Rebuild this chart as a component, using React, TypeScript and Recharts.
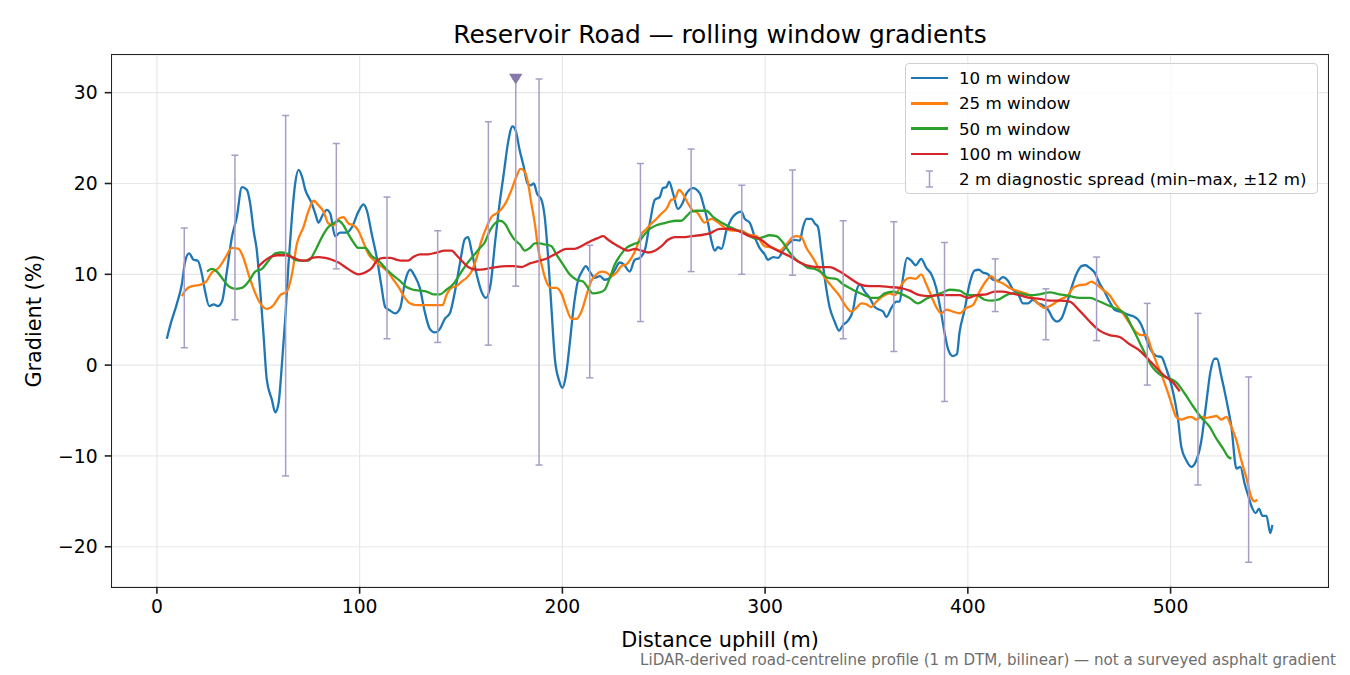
import React from "react"
import { ComposedChart, Line, Scatter, XAxis, YAxis, CartesianGrid } from "recharts"

// 10 m window
const dist10 = [
  4.9, 6.6, 9.9, 12.3, 14.0, 15.9, 18.1, 20.2, 22.2, 23.8, 25.8, 28.0, 30.1, 32.1, 34.5, 37.0, 39.4, 41.9, 44.4, 46.0,
  47.7, 49.3, 51.0, 52.6, 54.2, 56.7, 58.4, 60.0, 61.6, 63.3, 64.9, 66.6, 68.2, 69.9, 71.5, 73.2, 76.4, 78.1, 79.7, 81.7,
  83.8, 85.5, 87.9, 90.4, 93.7, 96.2, 99.4, 101.9, 103.6, 106.0, 108.5, 110.6, 112.6, 115.1, 117.5, 120.0, 122.4, 124.9,
  127.2, 129.7, 132.1, 134.6, 137.1, 139.6, 142.0, 144.5, 147.0, 149.4, 151.9, 153.5, 155.2, 157.7, 160.1, 162.3, 164.6,
  166.7, 168.8, 171.1, 173.2, 175.4, 177.0, 178.9, 180.9, 182.8, 184.3, 185.9, 187.5, 189.7, 191.3, 193.0, 194.6, 196.3,
  198.4, 200.0, 201.7, 203.7, 205.3, 207.8, 209.4, 211.6, 213.5, 216.0, 218.5, 220.9, 223.4, 225.9, 228.3, 230.3, 233.2,
  235.7, 238.1, 240.6, 243.1, 245.6, 248.0, 249.6, 251.3, 252.6, 254.6, 257.0, 259.2, 261.2, 264.4, 267.8, 269.4, 271.9,
  273.5, 275.2, 276.8, 278.5, 280.9, 283.4, 285.8, 288.3, 290.0, 292.4, 294.9, 297.3, 299.8, 301.4, 304.0, 306.4, 308.8,
  312.1, 314.6, 317.1, 318.7, 320.4, 322.8, 324.5, 326.1, 327.7, 329.4, 331.8, 334.3, 336.5, 338.4, 340.9, 343.4, 345.0,
  346.7, 349.1, 351.6, 354.1, 356.5, 358.2, 359.8, 362.3, 364.7, 366.4, 368.0, 370.0, 372.1, 374.3, 377.0, 379.5, 382.0,
  384.4, 386.4, 388.5, 390.2, 392.6, 394.6, 395.9, 398.4, 400.8, 403.3, 405.5, 407.4, 409.9, 412.4, 414.9, 417.3, 419.8,
  422.3, 424.7, 427.2, 429.7, 432.1, 434.6, 437.1, 439.6, 442.0, 444.0, 446.1, 448.6, 451.1, 453.5, 456.0, 458.1, 460.1,
  462.5, 465.0, 467.4, 469.9, 472.4, 474.8, 477.3, 479.8, 482.3, 484.7, 486.4, 488.0, 490.5, 493.0, 495.4, 497.9, 500.4,
  502.0, 503.7, 505.3, 507.8, 510.2, 512.7, 515.2, 517.6, 519.6, 521.7, 522.9, 525.0, 527.5, 530.0, 532.5, 534.4, 536.6,
  538.2, 540.4, 542.0, 543.6, 545.3, 547.3, 549.2, 550.2,
]
const grad10 = [
  2.9, 4.4, 6.8, 8.9, 11.5, 12.3, 11.6, 11.5, 10.0, 8.1, 6.5, 6.7, 6.5, 7.0, 10.3, 14.1, 16.3, 19.6, 19.3, 17.8,
  14.8, 12.6, 8.1, 3.3, -1.6, -3.8, -5.2, -4.2, -0.1, 5.1, 11.1, 16.3, 20.0, 21.5, 20.8, 19.3, 17.8, 16.7, 15.7, 16.5,
  17.1, 16.7, 14.2, 14.6, 14.6, 15.2, 16.9, 17.7, 17.0, 14.4, 11.8, 8.9, 6.4, 6.0, 5.7, 6.3, 9.2, 10.5,
  9.8, 8.5, 5.9, 4.0, 3.6, 4.0, 5.1, 5.7, 8.1, 11.1, 13.9, 14.1, 12.6, 10.0, 8.1, 7.4, 8.9,
  13.3, 17.4, 21.1, 24.5, 26.3, 25.8, 23.7, 21.9, 20.0, 19.8, 20.0, 18.9, 18.2, 16.3, 11.8, 6.3, 0.7,
  -1.7, -2.5, -1.2, 2.5, 5.9, 9.4, 10.2, 10.9, 10.3, 9.6, 9.8, 9.4, 9.6, 10.5, 11.3, 11.1, 10.3,
  11.6, 11.8, 12.6, 15.6, 18.2, 18.5, 19.5, 19.6, 20.2, 18.9, 17.2, 17.8, 18.9, 19.5, 18.9, 17.8, 15.6,
  13.7, 12.6, 13.0, 12.8, 14.8, 16.1, 16.7, 16.9, 16.1, 15.7, 14.1, 12.9, 12.2, 11.6, 11.9, 11.8, 12.6,
  13.5, 13.8, 13.7, 15.2, 16.1, 16.1, 15.6, 15.2, 12.6, 9.6, 6.4, 4.8, 3.8, 4.4, 4.9, 6.1, 8.1,
  8.9, 8.1, 7.4, 6.4, 6.1, 5.9, 5.3, 6.3, 7.0, 7.0, 9.6, 11.8, 11.5, 11.0, 11.7, 10.7, 10.0,
  8.5, 6.3, 3.6, 1.8, 1.0, 1.2, 3.6, 6.1, 8.9, 10.4, 10.5, 10.2, 10.0, 9.4, 9.3, 9.7, 9.3,
  8.3, 7.9, 6.8, 6.8, 7.2, 6.8, 6.6, 6.1, 5.1, 4.8, 5.1, 6.6, 8.5, 10.0, 10.9, 11.0, 10.7,
  10.2, 9.0, 8.1, 7.0, 6.1, 5.9, 5.7, 5.5, 5.3, 4.8, 4.0, 2.9, 1.6, 1.0, 0.9, -0.4, -2.2,
  -3.8, -6.0, -9.0, -10.5, -11.2, -10.5, -8.3, -4.2, -0.8, 0.7, 0.7, -1.2, -3.8, -6.8, -11.4, -11.2, -13.1,
  -14.3, -15.8, -16.3, -15.8, -16.6, -16.6, -18.5, -17.6,
]

// 25 m window
const dist25 = [
  12.3, 14.3, 17.3, 20.5, 24.3, 27.1, 30.4, 33.7, 37.0, 40.3, 42.7, 45.2, 48.2, 51.0, 54.2, 57.5, 60.8, 64.1, 66.6, 69.0,
  72.3, 74.8, 77.3, 79.7, 82.2, 84.6, 87.1, 89.6, 92.0, 94.5, 97.0, 99.4, 101.9, 104.4, 106.8, 109.3, 111.8, 114.2, 116.7,
  119.5, 122.3, 124.8, 128.0, 131.3, 134.6, 137.9, 140.9, 142.8, 145.3, 147.8, 150.3, 152.7, 155.2, 157.7, 160.1, 162.6,
  165.0, 167.5, 170.0, 172.4, 174.9, 177.4, 179.3, 181.5, 183.1, 184.7, 186.4, 188.0, 189.7, 192.1, 194.6, 197.0, 199.5,
  202.0, 204.5, 207.0, 209.4, 211.9, 214.3, 216.8, 219.3, 221.7, 224.2, 226.7, 229.1, 231.6, 234.1, 236.5, 239.0, 241.5,
  243.9, 246.4, 248.9, 251.3, 253.8, 255.4, 257.6, 259.6, 262.0, 264.4, 266.5, 270.2, 273.5, 276.8, 280.9, 284.2, 288.3,
  291.6, 295.7, 299.8, 304.0, 307.2, 310.5, 313.8, 315.4, 317.9, 320.4, 323.6, 326.9, 330.2, 333.5, 336.8, 340.1, 342.5,
  345.0, 347.5, 349.9, 352.4, 354.9, 358.2, 361.4, 363.9, 366.4, 368.8, 371.3, 374.3, 377.0, 379.5, 382.0, 384.4, 386.9,
  389.4, 392.6, 395.9, 399.2, 402.5, 405.8, 408.8, 411.5, 414.0, 417.3, 420.6, 425.5, 430.5, 434.6, 438.0, 441.2, 445.3,
  449.4, 451.9, 455.1, 458.4, 460.9, 463.4, 466.6, 469.9, 473.2, 476.5, 479.8, 483.1, 485.5, 488.0, 490.5, 493.0, 495.4,
  497.9, 500.4, 502.8, 505.3, 507.8, 510.2, 512.7, 515.2, 517.6, 520.1, 522.6, 525.0, 527.5, 530.0, 532.5, 534.9, 537.4,
  539.9, 541.5, 542.7,
]
const grad25 = [
  7.6, 8.3, 8.7, 8.8, 9.2, 10.2, 10.7, 11.8, 12.9, 12.8, 11.8, 10.0, 8.1, 6.8, 6.2, 6.6, 7.7, 8.1, 10.0, 13.3,
  15.2, 17.0, 18.1, 17.6, 16.9, 15.6, 15.4, 16.1, 16.3, 15.6, 15.4, 14.8, 13.5, 12.2, 11.6, 11.1, 10.7, 10.2, 9.4,
  8.5, 7.4, 6.8, 6.6, 6.6, 6.6, 6.6, 6.6, 7.7, 8.5, 8.7, 9.2, 9.6, 10.3, 11.8, 13.7, 15.2,
  16.3, 16.7, 17.2, 18.0, 19.3, 20.8, 21.6, 21.3, 20.0, 17.8, 15.6, 12.9, 11.1, 9.2, 8.5, 8.5, 7.9,
  6.3, 5.1, 5.1, 5.9, 7.7, 9.3, 10.0, 10.3, 10.2, 9.8, 10.2, 10.9, 11.1, 11.8, 12.9, 14.4, 15.0,
  15.6, 16.1, 16.7, 17.2, 18.2, 18.3, 19.3, 18.8, 17.8, 17.0, 16.8, 15.7, 16.1, 15.7, 15.0, 14.8, 14.8,
  14.4, 14.2, 13.1, 12.9, 12.6, 13.3, 14.1, 14.2, 14.1, 12.9, 11.8, 10.5, 9.4, 8.5, 7.6, 6.4, 5.9,
  6.3, 6.8, 6.7, 6.4, 7.0, 7.6, 7.9, 7.7, 8.5, 9.3, 9.6, 9.5, 10.0, 8.9, 7.6, 6.4, 5.7,
  6.1, 5.9, 5.7, 6.3, 6.6, 8.1, 9.2, 9.8, 9.3, 9.0, 8.5, 8.1, 7.7, 6.8, 6.3, 6.6, 7.2,
  7.7, 8.5, 8.8, 8.9, 9.2, 8.9, 8.3, 7.7, 6.6, 5.7, 4.6, 3.6, 3.3, 3.3, 1.8, 0.3, -1.0,
  -2.5, -4.2, -5.7, -6.0, -5.8, -5.7, -6.0, -5.7, -5.8, -5.7, -5.6, -6.0, -5.7, -6.8, -8.3, -10.5, -12.4,
  -14.6, -15.0, -14.8,
]

// 50 m window
const dist50 = [
  24.7, 27.1, 29.6, 32.1, 35.3, 38.6, 41.9, 45.2, 48.5, 51.8, 55.1, 58.4, 61.6, 64.9, 68.2, 71.5, 74.8, 78.1, 81.4, 84.6,
  87.1, 89.6, 92.0, 94.5, 97.0, 99.4, 102.7, 106.0, 109.3, 112.6, 115.9, 119.5, 123.1, 126.4, 129.7, 133.0, 136.3, 139.6,
  142.8, 146.1, 149.4, 152.7, 156.0, 159.3, 161.7, 164.2, 166.7, 169.1, 171.6, 174.1, 176.5, 179.0, 181.5, 183.9, 186.4,
  188.8, 191.3, 194.6, 197.0, 200.3, 203.6, 206.9, 210.2, 212.7, 215.1, 218.4, 220.9, 223.4, 225.9, 228.3, 231.6, 234.9,
  237.4, 239.8, 243.1, 246.4, 249.7, 253.0, 256.2, 258.7, 261.2, 263.6, 266.1, 271.0, 274.4, 278.5, 282.6, 285.8, 289.1,
  292.4, 295.7, 299.0, 302.2, 305.5, 308.8, 312.1, 315.4, 318.7, 321.2, 324.5, 327.7, 331.0, 335.1, 338.4, 341.7, 345.0,
  349.1, 352.4, 355.7, 359.0, 363.1, 366.4, 371.3, 375.4, 379.5, 383.6, 387.7, 391.0, 395.9, 400.0, 404.2, 408.3, 411.5,
  414.9, 418.1, 421.4, 425.5, 430.5, 435.4, 440.4, 445.3, 450.2, 455.1, 460.1, 465.0, 469.1, 473.2, 477.3, 481.4, 484.7,
  488.0, 491.3, 494.6, 498.7, 502.8, 506.9, 511.0, 515.2, 519.3, 522.6, 525.9, 528.4, 530.0,
]
const grad50 = [
  10.3, 10.6, 10.3, 9.6, 8.7, 8.4, 8.5, 9.2, 10.3, 10.6, 11.5, 12.3, 12.4, 12.2, 11.6, 11.5, 11.5, 12.6, 14.1, 15.2,
  15.6, 15.9, 15.4, 14.4, 13.5, 12.9, 12.9, 12.0, 11.5, 10.7, 10.0, 9.35, 8.6, 8.3, 8.2, 8.1, 7.8, 7.8,
  8.3, 8.9, 10.0, 11.1, 12.0, 12.9, 13.5, 14.8, 15.6, 15.9, 15.6, 14.6, 13.8, 13.3, 12.6, 12.9, 13.4,
  13.4, 13.3, 13.1, 12.2, 11.1, 10.0, 9.4, 9.2, 8.5, 7.9, 8.0, 8.3, 9.6, 11.1, 12.0, 12.9, 13.3,
  13.5, 14.2, 15.0, 15.4, 15.6, 15.8, 15.9, 15.9, 16.4, 16.9, 17.0, 17.0, 16.3, 15.7, 15.2, 14.9, 14.6,
  14.2, 13.9, 14.1, 14.3, 14.2, 13.5, 12.4, 11.6, 11.1, 10.7, 10.6, 10.2, 9.6, 9.5, 8.9, 8.5, 8.1,
  7.7, 7.4, 7.4, 7.9, 8.1, 7.9, 7.4, 6.8, 7.3, 7.7, 8.0, 8.3, 8.2, 7.7, 7.7, 7.2, 7.1,
  7.2, 7.6, 7.9, 7.9, 7.7, 7.8, 8.0, 7.8, 7.6, 7.4, 7.4, 7.0, 6.6, 6.2, 5.7, 4.0, 2.5,
  1.0, -0.3, -1.0, -1.4, -1.9, -3.1, -4.5, -5.8, -6.8, -8.1, -9.2, -10.1, -10.3,
]

// 100 m window
const dist100 = [
  49.8, 52.6, 55.9, 59.2, 63.3, 66.6, 69.9, 73.1, 76.4, 79.7, 83.0, 86.3, 89.6, 92.9, 96.2, 99.4, 102.7, 106.0, 108.5,
  111.8, 115.1, 118.3, 121.6, 123.9, 126.4, 129.7, 133.8, 137.9, 142.0, 145.3, 147.8, 150.3, 153.5, 157.7, 162.6, 167.5,
  172.4, 176.5, 179.8, 184.0, 188.8, 192.9, 197.1, 202.0, 206.1, 210.2, 214.3, 217.6, 220.1, 222.6, 225.9, 229.1, 232.4,
  235.7, 239.0, 242.3, 245.6, 248.9, 252.1, 255.4, 259.5, 263.6, 267.8, 272.7, 277.6, 282.6, 287.5, 292.4, 297.3, 302.2,
  307.2, 312.1, 317.1, 322.0, 326.9, 331.8, 336.8, 341.7, 346.7, 351.6, 356.5, 361.4, 366.4, 371.3, 376.2, 381.1, 386.0,
  391.0, 395.9, 400.0, 404.2, 409.1, 413.2, 417.3, 421.4, 425.5, 430.5, 435.4, 440.4, 445.3, 450.2, 455.1, 460.1, 465.0,
  469.9, 474.8, 479.8, 484.7, 488.8, 493.0, 497.1, 501.2, 504.5,
]
const grad100 = [
  10.8, 11.4, 11.9, 12.1, 12.1, 11.9, 11.6, 11.5, 11.8, 11.9, 11.8, 11.6, 11.3, 10.8, 10.3, 10.0, 10.2, 10.7, 11.5,
  11.8, 11.8, 11.6, 11.5, 11.5, 11.9, 12.2, 12.2, 12.4, 12.6, 12.6, 12.1, 11.5, 10.8, 10.5, 10.6, 10.8,
  10.9, 10.9, 10.8, 11.2, 11.5, 11.8, 12.3, 12.8, 12.8, 13.2, 13.7, 14.0, 14.2, 13.8, 13.3, 12.9, 12.6,
  12.8, 12.6, 12.4, 12.6, 13.1, 13.8, 14.1, 14.1, 14.2, 14.3, 14.5, 15.0, 15.0, 14.7, 14.2, 13.9, 13.1,
  12.5, 12.0, 11.3, 10.9, 10.8, 10.8, 10.3, 9.6, 8.9, 8.7, 8.7, 8.6, 8.5, 8.2, 7.7, 7.6, 7.7,
  7.7, 7.7, 7.4, 7.7, 7.8, 8.1, 8.1, 7.9, 7.7, 7.4, 7.3, 7.1, 7.1, 7.0, 6.0, 4.8, 3.8,
  3.3, 3.1, 2.3, 1.6, 0.7, -0.3, -1.2, -1.9, -2.9,
]

// 2 m diagnostic spread, every 25 m
const barDist = [13.5, 38.5, 63.5, 88.5, 113.5, 138.5, 163.5, 188.5, 213.5, 238.5, 263.5, 288.5, 313.5, 338.5, 363.5, 388.5, 413.5, 438.5, 463.5, 488.5, 513.5, 538.5]
const barMin = [1.9, 5.0, -12.2, 10.6, 2.9, 2.5, 2.2, -11.0, -1.4, 4.8, 10.3, 10.0, 9.9, 2.9, 1.5, -4.0, 5.9, 2.8, 2.7, -2.2, -13.2, -21.7]
const barMax = [15.1, 23.1, 27.5, 24.4, 18.5, 14.8, 26.8, 31.5, 13.2, 22.2, 23.8, 19.8, 21.5, 15.9, 15.8, 13.5, 11.7, 8.4, 11.9, 6.8, 5.7, -1.3]

// steepest point
const peakDist = 177
const peakMin = 8.7
const peakMax = 31.5

const xTicks = [0, 100, 200, 300, 400, 500]
const yTicks = [-20, -10, 0, 10, 20, 30]

const series = [
  { name: "10 m window", color: "#1f77b4", data: dist10.map((d, i) => ({ d, g: grad10[i] })) },
  { name: "25 m window", color: "#ff7f0e", data: dist25.map((d, i) => ({ d, g: grad25[i] })) },
  { name: "50 m window", color: "#2ca02c", data: dist50.map((d, i) => ({ d, g: grad50[i] })) },
  { name: "100 m window", color: "#d62728", data: dist100.map((d, i) => ({ d, g: grad100[i] })) },
]

const bars = barDist.map((d, i) => [{ d, g: barMin[i] }, { d, g: barMax[i] }])
bars.push([{ d: peakDist, g: peakMin }, { d: peakDist, g: peakMax }])

const BAR = "#a99cc6"
const FONT = "'DejaVu Sans', sans-serif"

// plot box in page pixels
const PL = 111.7
const PT = 55
const PR = 1328.3
const PB = 586.7

const Cap = (props: any) => {
  const { cx, cy } = props
  return <line x1={cx - 3.5} x2={cx + 3.5} y1={cy} y2={cy} stroke={BAR} strokeWidth={1.5} />
}

const Tri = (props: any) => {
  const { cx, cy } = props
  return <polygon points={`${cx - 6.7},${cy - 5.4} ${cx + 6.7},${cy - 5.4} ${cx},${cy + 5.4}`} fill="#8878aa" />
}

const minus = (v: number) => String(v).replace("-", "\u2212")

export default function App() {
  const yAxisW = 80
  const xAxisH = 40
  return (
    <div style={{ position: "absolute", left: 0, top: 0, width: 1350, height: 675, background: "#fff", fontFamily: FONT }}>
      <ComposedChart
        width={1350}
        height={675}
        margin={{ top: PT, right: 1350 - PR, left: PL - yAxisW, bottom: 675 - PB - xAxisH }}
      >
        <CartesianGrid stroke="#e8e8e8" strokeWidth={1.2} />
        <XAxis
          type="number"
          dataKey="d"
          domain={[-22.3, 577.8]}
          ticks={xTicks}
          allowDataOverflow
          height={xAxisH}
          axisLine={false}
          tickSize={7}
          tickMargin={6}
          tickLine={{ stroke: "#222", strokeWidth: 1.6 }}
          tick={{ fontSize: 18.75, fill: "#000", fontFamily: FONT }}
        />
        <YAxis
          type="number"
          dataKey="g"
          domain={[-24.4, 34.15]}
          ticks={yTicks}
          allowDataOverflow
          width={yAxisW}
          axisLine={false}
          tickSize={7}
          tickMargin={7}
          tickLine={{ stroke: "#222", strokeWidth: 1.6 }}
          tick={{ fontSize: 18.75, fill: "#000", fontFamily: FONT }}
          tickFormatter={minus}
        />
        {bars.map((b, i) => (
          <Scatter
            key={"bar" + i}
            data={b}
            dataKey="g"
            line={{ stroke: BAR, strokeWidth: 1.5 }}
            lineType="joint"
            shape={Cap}
            isAnimationActive={false}
          />
        ))}
        {series.map((s) => (
          <Line
            key={s.name}
            data={s.data}
            dataKey="g"
            type="monotone"
            stroke={s.color}
            strokeWidth={2.3}
            dot={false}
            activeDot={false}
            isAnimationActive={false}
          />
        ))}
        <Scatter data={[{ d: peakDist, g: peakMax }]} dataKey="g" shape={Tri} isAnimationActive={false} />
      </ComposedChart>

      {/* frame */}
      <div
        style={{
          position: "absolute",
          left: PL - 0.85,
          top: PT - 0.85,
          width: PR - PL + 1.7,
          height: PB - PT + 1.7,
          boxSizing: "border-box",
          border: "1.7px solid #222",
          pointerEvents: "none",
        }}
      />

      {/* title */}
      <div style={{ position: "absolute", left: (PL + PR) / 2, top: 34, transform: "translate(-50%, -50%)", fontSize: 24.9, whiteSpace: "nowrap", color: "#000" }}>
        Reservoir Road — rolling window gradients
      </div>

      {/* axis labels */}
      <div style={{ position: "absolute", left: (PL + PR) / 2, top: 640, transform: "translate(-50%, -50%)", fontSize: 20.8, whiteSpace: "nowrap", color: "#000" }}>
        Distance uphill (m)
      </div>
      <div style={{ position: "absolute", left: 34, top: (PT + PB) / 2, transform: "translate(-50%, -50%) rotate(-90deg)", fontSize: 20.8, whiteSpace: "nowrap", color: "#000" }}>
        Gradient (%)
      </div>

      {/* footnote */}
      <div style={{ position: "absolute", right: 1350 - 1336, top: 660, transform: "translateY(-50%)", fontSize: 15.1, whiteSpace: "nowrap", color: "#6e6e6e" }}>
        LiDAR-derived road-centreline profile (1 m DTM, bilinear) — not a surveyed asphalt gradient
      </div>

      {/* legend */}
      <div
        style={{
          position: "absolute",
          left: 905,
          top: 63,
          width: 413,
          height: 131,
          boxSizing: "border-box",
          border: "1.3px solid #d0d0d0",
          borderRadius: 4,
          background: "rgba(255,255,255,0.8)",
        }}
      >
        {series.map((s, i) => (
          <div key={s.name} style={{ position: "absolute", left: 0, top: 14 + i * 25.3, height: 0 }}>
            <div style={{ position: "absolute", left: 5, top: -1.2, width: 37, height: 2.5, background: s.color }} />
            <div style={{ position: "absolute", left: 53, top: 0, transform: "translateY(-50%)", fontSize: 16.7, whiteSpace: "nowrap", color: "#000" }}>
              {s.name}
            </div>
          </div>
        ))}
        <div style={{ position: "absolute", left: 0, top: 14 + 4 * 25.3, height: 0 }}>
          <svg style={{ position: "absolute", left: 5, top: -10 }} width={37} height={20}>
            <line x1={18.5} x2={18.5} y1={2} y2={18} stroke={BAR} strokeWidth={1.5} />
            <line x1={15} x2={22} y1={2} y2={2} stroke={BAR} strokeWidth={1.5} />
            <line x1={15} x2={22} y1={18} y2={18} stroke={BAR} strokeWidth={1.5} />
          </svg>
          <div style={{ position: "absolute", left: 53, top: 0, transform: "translateY(-50%)", fontSize: 16.7, whiteSpace: "nowrap", color: "#000" }}>
            2 m diagnostic spread (min–max, ±12 m)
          </div>
        </div>
      </div>
    </div>
  )
}
